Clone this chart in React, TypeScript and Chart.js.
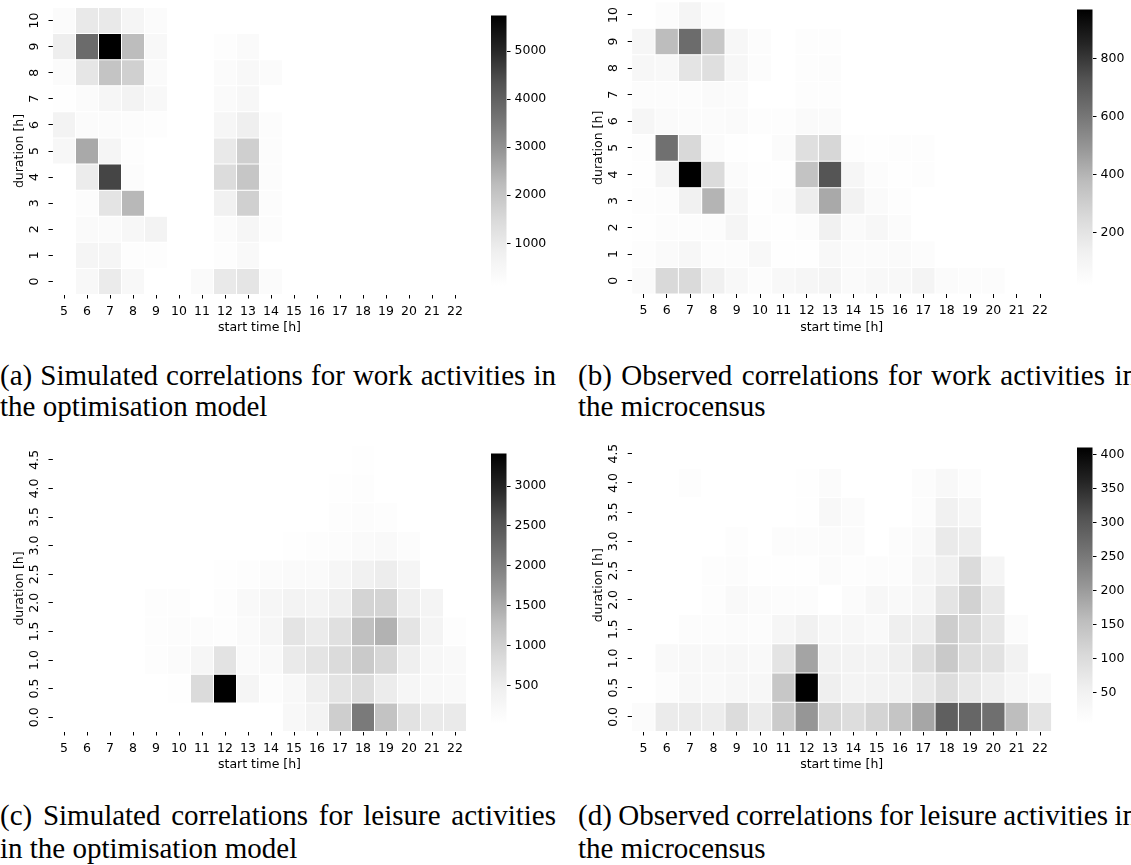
import React, { useEffect, useRef } from "react";
import { Chart, registerables } from "chart.js";

Chart.register(...registerables);

// ---------------- data ----------------
const startHours = ["5", "6", "7", "8", "9", "10", "11", "12", "13", "14", "15", "16", "17", "18", "19", "20", "21", "22"];
const workDurationLabels = ["0", "1", "2", "3", "4", "5", "6", "7", "8", "9", "10"];
const leisureDurationLabels = ["0.0", "0.5", "1.0", "1.5", "2.0", "2.5", "3.0", "3.5", "4.0", "4.5"];

// rows = duration (bottom to top), columns = start hour 5..22
const workSimulated = [
  [0, 430, 950, 430, 0, 0, 340, 1030, 1150, 290, 0, 0, 0, 0, 0, 0, 0, 0],
  [0, 570, 570, 195, 195, 0, 0, 195, 380, 0, 0, 0, 0, 0, 0, 0, 0, 0],
  [0, 340, 340, 480, 660, 0, 0, 290, 520, 240, 0, 0, 0, 0, 0, 0, 0, 0],
  [0, 240, 1170, 2300, 0, 0, 0, 760, 1740, 240, 0, 0, 0, 0, 0, 0, 0, 0],
  [0, 930, 4540, 240, 0, 0, 0, 1420, 1980, 240, 0, 0, 0, 0, 0, 0, 0, 0],
  [480, 2580, 570, 195, 0, 0, 0, 1030, 1760, 240, 0, 0, 0, 0, 0, 0, 0, 0],
  [660, 290, 290, 240, 195, 0, 0, 520, 850, 240, 0, 0, 0, 0, 0, 0, 0, 0],
  [150, 290, 520, 660, 430, 0, 0, 340, 480, 0, 0, 0, 0, 0, 0, 0, 0, 0],
  [290, 1100, 2040, 1740, 340, 0, 0, 290, 430, 290, 0, 0, 0, 0, 0, 0, 0, 0],
  [880, 3790, 5740, 2215, 430, 0, 0, 195, 340, 0, 0, 0, 0, 0, 0, 0, 0, 0],
  [290, 1030, 1030, 570, 290, 0, 0, 0, 0, 0, 0, 0, 0, 0, 0, 0, 0, 0],
];

const workObserved = [
  [55, 257, 250, 140, 75, 43, 75, 90, 105, 60, 75, 75, 105, 50, 43, 43, 0, 0],
  [35, 55, 83, 43, 43, 75, 25, 25, 75, 50, 50, 60, 43, 0, 0, 0, 0, 0],
  [30, 43, 43, 43, 98, 35, 25, 43, 133, 60, 83, 50, 0, 0, 0, 0, 0, 0],
  [35, 43, 133, 403, 83, 25, 43, 152, 437, 125, 60, 35, 0, 0, 0, 0, 0, 0],
  [25, 105, 970, 247, 50, 25, 30, 352, 723, 90, 43, 25, 35, 0, 0, 0, 0, 0],
  [35, 623, 257, 50, 25, 20, 50, 228, 266, 35, 25, 35, 35, 0, 0, 0, 0, 0],
  [90, 60, 50, 50, 60, 35, 35, 60, 60, 0, 0, 0, 0, 0, 0, 0, 0, 0],
  [43, 43, 43, 60, 50, 0, 0, 35, 35, 0, 0, 0, 0, 0, 0, 0, 0, 0],
  [83, 75, 200, 228, 83, 43, 0, 35, 43, 0, 0, 0, 0, 0, 0, 0, 0, 0],
  [90, 376, 637, 333, 83, 43, 0, 35, 35, 0, 0, 0, 0, 0, 0, 0, 0, 0],
  [0, 43, 98, 43, 0, 0, 0, 0, 0, 0, 0, 0, 0, 0, 0, 0, 0, 0],
];

const leisureSimulated = [
  [0, 0, 0, 0, 0, 30, 30, 30, 25, 25, 217, 360, 1037, 2054, 1207, 698, 550, 550],
  [0, 0, 0, 0, 0, 50, 833, 3410, 300, 100, 217, 460, 664, 800, 518, 275, 217, 190],
  [0, 0, 0, 0, 78, 120, 275, 680, 150, 190, 560, 664, 833, 1088, 900, 460, 240, 190],
  [0, 0, 0, 0, 78, 100, 100, 78, 150, 275, 664, 530, 730, 1240, 1410, 664, 320, 78],
  [0, 0, 0, 0, 78, 78, 0, 78, 190, 275, 360, 320, 460, 950, 950, 460, 320, 0],
  [0, 0, 0, 0, 0, 0, 0, 50, 78, 120, 150, 150, 275, 410, 495, 300, 0, 0],
  [0, 0, 0, 0, 0, 0, 0, 0, 0, 0, 50, 78, 100, 150, 190, 100, 0, 0],
  [0, 0, 0, 0, 0, 0, 0, 0, 0, 0, 0, 0, 78, 100, 78, 0, 0, 0],
  [0, 0, 0, 0, 0, 0, 0, 0, 0, 0, 0, 0, 50, 78, 0, 0, 0, 0],
  [0, 0, 0, 0, 0, 0, 0, 0, 0, 0, 0, 0, 0, 50, 0, 0, 0, 0],
];

const leisureObserved = [
  [17, 65, 65, 61, 99, 67, 132, 208, 110, 98, 114, 142, 187, 289, 279, 265, 155, 81],
  [0, 14, 28, 25, 30, 30, 138, 411, 57, 41, 45, 47, 71, 98, 73, 57, 34, 25],
  [0, 25, 28, 28, 30, 25, 81, 189, 47, 45, 45, 57, 98, 134, 98, 85, 47, 0],
  [0, 0, 14, 14, 18, 14, 34, 52, 30, 30, 25, 57, 62, 128, 106, 75, 17, 0],
  [0, 0, 0, 11, 25, 18, 14, 14, 4, 18, 30, 25, 38, 81, 118, 71, 0, 0],
  [0, 0, 0, 11, 14, 8, 8, 8, 18, 11, 14, 14, 34, 55, 102, 38, 0, 0],
  [0, 0, 0, 0, 11, 0, 14, 14, 18, 18, 0, 14, 25, 69, 62, 0, 0, 0],
  [0, 0, 0, 0, 0, 0, 0, 8, 28, 18, 0, 0, 14, 52, 34, 0, 0, 0],
  [0, 0, 11, 0, 0, 0, 0, 8, 18, 0, 0, 0, 14, 28, 14, 0, 0, 0],
  [0, 0, 0, 0, 0, 0, 0, 0, 0, 0, 0, 0, 0, 0, 0, 0, 0, 0],
];

// colour-bar ranges and ticks
const workSimulatedRange = [100, 5740];
const workObservedRange = [19, 970];
const leisureSimulatedRange = [20, 3410];
const leisureObservedRange = [4, 411];
const workSimulatedTicks = [1000, 2000, 3000, 4000, 5000];
const workObservedTicks = [200, 400, 600, 800];
const leisureSimulatedTicks = [500, 1000, 1500, 2000, 2500, 3000];
const leisureObservedTicks = [50, 100, 150, 200, 250, 300, 350, 400];

const captionA1 = "(a) Simulated correlations for work activities in";
const captionA2 = "the optimisation model";
const captionB1 = "(b) Observed correlations for work activities in";
const captionB2 = "the microcensus";
const captionC1 = "(c) Simulated correlations for leisure activities";
const captionC2 = "in the optimisation model";
const captionD1 = "(d) Observed correlations for leisure activities in";
const captionD2 = "the microcensus";

// ---------------- helpers ----------------
const GREYS = [255, 240, 217, 189, 150, 115, 82, 37, 0];
function greyAt(t: number): string {
  const c = Math.max(0, Math.min(1, t));
  const p = c * 8;
  const i = Math.min(7, Math.floor(p));
  const f = p - i;
  const g = Math.round(GREYS[i] + (GREYS[i + 1] - GREYS[i]) * f);
  return `rgb(${g},${g},${g})`;
}

const FONT = "'DejaVu Sans', sans-serif";
const FS = 12.5;

type Box = { L: number; R: number; T: number; B: number };

function Heatmap(props: { box: Box; rowLabels: string[]; values: number[][]; range: number[] }) {
  const { box, rowLabels, values, range } = props;
  const ref = useRef<HTMLCanvasElement>(null);
  const cLeft = Math.floor(box.L) - 60;
  const cTop = Math.floor(box.T) - 3;
  const cRight = Math.ceil(box.R) + 4;
  const cBottom = Math.ceil(box.B) + 46;
  const W = cRight - cLeft;
  const H = cBottom - cTop;

  useEffect(() => {
    const [vmin, vmax] = range;
    const datasets = values.map((row, r) => ({
      data: row.map(() => [r - 0.5, r + 0.5]),
      backgroundColor: row.map((v) => greyAt((v - vmin) / (vmax - vmin))),
      borderColor: "#ffffff",
      borderWidth: 0.5,
      borderSkipped: false,
      barPercentage: 1,
      categoryPercentage: 1,
      grouped: false,
      inflateAmount: 0,
    }));
    const yLabelPlugin = {
      id: "rotatedYLabels",
      afterDraw(chart: any) {
        const ctx = chart.ctx;
        const y = chart.scales.y;
        ctx.save();
        ctx.fillStyle = "#000";
        ctx.font = `${FS}px ${FONT}`;
        ctx.textAlign = "center";
        ctx.textBaseline = "middle";
        rowLabels.forEach((lab, i) => {
          const py = y.getPixelForValue(i);
          ctx.save();
          ctx.translate(y.right - 17.5, py);
          ctx.rotate(-Math.PI / 2);
          ctx.fillText(lab, 0, 0);
          ctx.restore();
        });
        ctx.restore();
      },
    };
    const chart = new Chart(ref.current as HTMLCanvasElement, {
      type: "bar",
      data: { labels: startHours, datasets: datasets as any },
      options: {
        responsive: false,
        animation: false,
        events: [],
        plugins: { legend: { display: false }, tooltip: { enabled: false } },
        layout: {
          autoPadding: false,
          padding: { left: 0, top: box.T - cTop, right: cRight - box.R, bottom: 0 },
        },
        scales: {
          x: {
            type: "category",
            offset: true,
            grid: { display: true, drawOnChartArea: false, drawTicks: true, tickLength: 4, color: "#000", lineWidth: 1, offset: false },
            border: { display: false },
            ticks: { color: "#000", font: { family: FONT, size: FS }, padding: 5.5, maxRotation: 0, minRotation: 0, autoSkip: false },
            title: {
              display: true,
              text: "start time [h]",
              color: "#000",
              font: { family: FONT, size: FS },
              padding: { top: 0, bottom: cBottom - (box.B + 33.5) - 7.5 },
            },
            afterFit: (s: any) => {
              s.height = cBottom - box.B;
            },
          },
          y: {
            type: "linear",
            min: -0.5,
            max: rowLabels.length - 0.5,
            afterBuildTicks: (s: any) => {
              s.ticks = rowLabels.map((_, i) => ({ value: i }));
            },
            grid: { display: true, drawOnChartArea: false, drawTicks: true, tickLength: 4, color: "#000", lineWidth: 1 },
            border: { display: false },
            ticks: { display: false },
            title: {
              display: true,
              text: "duration [h]",
              color: "#000",
              font: { family: FONT, size: FS },
              padding: { top: box.L - 33 - cLeft - 7.5, bottom: 0 },
            },
            afterFit: (s: any) => {
              s.width = box.L - cLeft;
            },
          },
        },
      } as any,
      plugins: [yLabelPlugin],
    });
    return () => chart.destroy();
  }, []);

  return (
    <canvas
      ref={ref}
      width={W}
      height={H}
      style={{ position: "absolute", left: cLeft, top: cTop, width: W, height: H }}
    />
  );
}

function Colorbar(props: { left: number; T: number; B: number; range: number[]; ticks: number[] }) {
  const { left, T, B, range, ticks } = props;
  const ref = useRef<HTMLCanvasElement>(null);
  const barW = 15.5;
  const cLeft = Math.floor(left);
  const cTop = Math.floor(T) - 3;
  const cBottom = Math.ceil(B) + 3;
  const W = 70;
  const H = cBottom - cTop;
  useEffect(() => {
    const gradientPlugin = {
      id: "cbGradient",
      beforeDatasetsDraw(chart: any) {
        const { ctx, chartArea } = chart;
        const g = ctx.createLinearGradient(0, chartArea.bottom, 0, chartArea.top);
        GREYS.forEach((v, i) => g.addColorStop(i / 8, `rgb(${v},${v},${v})`));
        ctx.save();
        ctx.fillStyle = g;
        ctx.fillRect(chartArea.left, chartArea.top, chartArea.right - chartArea.left, chartArea.bottom - chartArea.top);
        ctx.restore();
      },
    };
    const chart = new Chart(ref.current as HTMLCanvasElement, {
      type: "scatter",
      data: { datasets: [{ data: [] }] },
      options: {
        responsive: false,
        animation: false,
        events: [],
        plugins: { legend: { display: false }, tooltip: { enabled: false } },
        layout: {
          autoPadding: false,
          padding: { left: left - cLeft, top: T - cTop, right: 0, bottom: cBottom - B },
        },
        scales: {
          x: { type: "linear", display: false },
          y: {
            type: "linear",
            position: "right",
            min: range[0],
            max: range[1],
            afterBuildTicks: (s: any) => {
              s.ticks = ticks.map((v) => ({ value: v }));
            },
            grid: { display: true, drawOnChartArea: false, drawTicks: true, tickLength: 4, color: "#000", lineWidth: 1 },
            border: { display: false },
            ticks: {
              color: "#000",
              font: { family: FONT, size: FS },
              padding: 4,
              callback: (v: any) => String(v),
            },
            afterFit: (s: any) => {
              s.width = W - (left - cLeft) - barW;
            },
          },
        },
      } as any,
      plugins: [gradientPlugin],
    });
    return () => chart.destroy();
  }, []);
  return (
    <canvas
      ref={ref}
      width={W}
      height={H}
      style={{ position: "absolute", left: cLeft, top: cTop, width: W, height: H }}
    />
  );
}

function CaptionLine(props: { text: string; left: number; top: number; width: number; justify: boolean; wordSpacing?: number }) {
  const { text, left, top, width, justify, wordSpacing } = props;
  return (
    <div
      style={{
        position: "absolute",
        left,
        top,
        width,
        fontFamily: "'Liberation Serif', 'Times New Roman', serif",
        fontSize: 29,
        lineHeight: "33px",
        color: "#000",
        whiteSpace: "nowrap",
        wordSpacing: wordSpacing ?? 0,
        textAlign: justify ? "justify" : "left",
        textAlignLast: justify ? "justify" : "left",
      } as any}
    >
      {text}
    </div>
  );
}

const boxA: Box = { L: 52.5, R: 466.5, T: 7.5, B: 294.5 };
const boxB: Box = { L: 631.7, R: 1051.7, T: 1.7, B: 294 };
const boxC: Box = { L: 52.5, R: 466.5, T: 445.5, B: 731.5 };
const boxD: Box = { L: 631.7, R: 1051.7, T: 439, B: 731.5 };

export default function App() {
  return (
    <div
      style={{
        position: "fixed",
        left: 0,
        top: 0,
        width: 1131,
        height: 865,
        overflow: "hidden",
        background: "#fff",
      }}
    >
      <Heatmap box={boxA} rowLabels={workDurationLabels} values={workSimulated} range={workSimulatedRange} />
      <Colorbar left={491} T={boxA.T} B={boxA.B} range={workSimulatedRange} ticks={workSimulatedTicks} />
      <Heatmap box={boxB} rowLabels={workDurationLabels} values={workObserved} range={workObservedRange} />
      <Colorbar left={1077} T={boxB.T} B={boxB.B} range={workObservedRange} ticks={workObservedTicks} />
      <Heatmap box={boxC} rowLabels={leisureDurationLabels} values={leisureSimulated} range={leisureSimulatedRange} />
      <Colorbar left={491} T={boxC.T} B={boxC.B} range={leisureSimulatedRange} ticks={leisureSimulatedTicks} />
      <Heatmap box={boxD} rowLabels={leisureDurationLabels} values={leisureObserved} range={leisureObservedRange} />
      <Colorbar left={1077} T={boxD.T} B={boxD.B} range={leisureObservedRange} ticks={leisureObservedTicks} />

      <CaptionLine text={captionA1} left={0} top={358.5} width={556} justify={true} />
      <CaptionLine text={captionA2} left={0} top={390} width={556} justify={false} />
      <CaptionLine text={captionB1} left={578} top={358.5} width={559} justify={true} />
      <CaptionLine text={captionB2} left={578} top={390} width={559} justify={false} />
      <CaptionLine text={captionC1} left={0} top={798.5} width={556} justify={true} />
      <CaptionLine text={captionC2} left={0} top={831.5} width={556} justify={false} />
      <CaptionLine text={captionD1} left={578} top={798.5} width={559} justify={true} wordSpacing={-2} />
      <CaptionLine text={captionD2} left={578} top={831.5} width={559} justify={false} />
    </div>
  );
}
